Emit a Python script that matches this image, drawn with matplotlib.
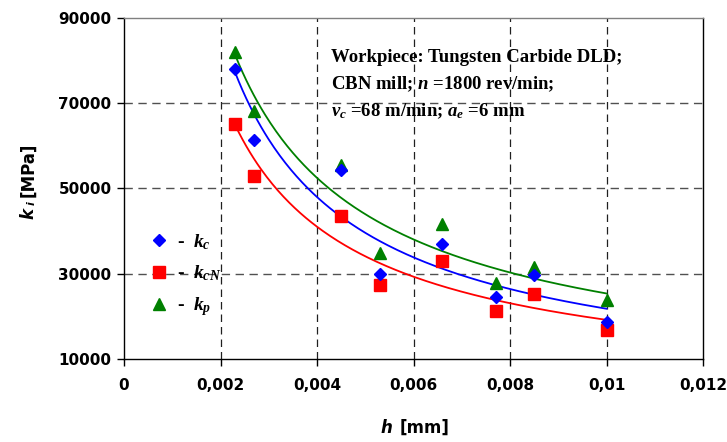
import numpy as np
import matplotlib
matplotlib.use("Agg")
import matplotlib.pyplot as plt

# ---- data ----
h = [0.0023, 0.0027, 0.0045, 0.0053, 0.0066, 0.0077, 0.0085, 0.0100]
kc = [78000, 61300, 54300, 29900, 37000, 24600, 29700, 18700]
kcN = [65000, 52900, 43500, 27300, 32900, 21300, 25200, 16700]
kp = [82000, 68000, 55400, 34900, 41600, 27800, 31600, 23800]

xticks = [0, 0.002, 0.004, 0.006, 0.008, 0.01, 0.012]
xticklabels = ["0", "0,002", "0,004", "0,006", "0,008", "0,01", "0,012"]
yticks = [10000, 30000, 50000, 70000, 90000]

plt.rcParams["font.family"] = ["DejaVu Sans"]
plt.rcParams["mathtext.fontset"] = "custom"
plt.rcParams["mathtext.rm"] = "Liberation Serif:bold"
plt.rcParams["mathtext.it"] = "Liberation Serif:bold:italic"
plt.rcParams["mathtext.bf"] = "Liberation Serif:bold"

W, H = 727, 442
fig = plt.figure(figsize=(W / 100, H / 100), dpi=100)
ax = fig.add_axes([124 / W, 1 - 359 / H, (703 - 124) / W, (359 - 17.5) / H])

ax.set_xlim(0, 0.012)
ax.set_ylim(10000, 90000)

# grid
for gx in xticks[1:-1]:
    ax.axvline(gx, color="#202020", lw=0.9, ls=(0, (6, 4)), zorder=1)
for gy in [30000, 50000, 70000]:
    ax.axhline(gy, color="#505050", lw=1.0, ls=(0, (6, 4)), zorder=1)

# power-law trendlines fitted to the data
series = [(kc, "#0000FF", "D", 6.0, r"-  $k_{c}$"),
          (kcN, "#FF0000", "s", 8.0, r"-  $k_{cN}$"),
          (kp, "#008000", "^", 8.5, r"-  $k_{p}$")]
hx = np.array(h)
xs = np.linspace(hx.min(), hx.max(), 200)
for vals, col, mk, ms, lab in series:
    b, a = np.polyfit(np.log(hx), np.log(np.array(vals)), 1)
    ax.plot(xs, np.exp(a) * xs ** b, color=col, lw=1.3, zorder=2)
for i in [2, 1, 0]:
    vals, col, mk, ms, lab = series[i]
    ax.plot(h, vals, ls="none", marker=mk, ms=ms, color=col, mec=col, zorder=3 + (2 - i))
handles = [plt.Line2D([], [], ls="none", marker=mk, ms=ms, color=col, mec=col, label=lab)
           for vals, col, mk, ms, lab in series]

ax.legend(handles=handles, loc="upper left", bbox_to_anchor=(0.027, 0.395),
          frameon=False, prop={"family": "Liberation Serif", "weight": "bold", "size": 14},
          handletextpad=0.3, labelspacing=0.62, handlelength=1.2, borderaxespad=0)

# spines
for s in ["left", "bottom", "right"]:
    ax.spines[s].set_color("black")
    ax.spines[s].set_linewidth(1.0)
ax.spines["top"].set_color("#808080")
ax.spines["top"].set_linewidth(1.0)

ax.set_xticks(xticks)
ax.set_xticklabels(xticklabels)
ax.set_yticks(yticks)
ax.set_yticklabels([str(v) for v in yticks])
ax.tick_params(axis="both", direction="out", length=5, width=1.0, labelsize=11)
ax.tick_params(axis="x", pad=9)
ax.tick_params(axis="y", pad=4)
for lb in ax.get_xticklabels() + ax.get_yticklabels():
    lb.set_fontweight("bold")

# annotation
tx = (331 - 124) / (703 - 124)
kw = dict(transform=ax.transAxes, family="Liberation Serif", weight="bold", size=13.5, va="center")
ax.text(tx, 1 - (58 - 17.5) / 341.5, "Workpiece: Tungsten Carbide DLD;", **kw)
ax.text(tx, 1 - (84.5 - 17.5) / 341.5, r"CBN mill; $n$ =1800 rev/min;", **kw)
ax.text(tx, 1 - (111 - 17.5) / 341.5, r"$v_{c}$ =68 m/min; $a_{e}$ =6 mm", **kw)

# axis labels (sans bold, italic variable)
fig.text(380 / W, 1 - 428 / H, "h", weight="bold", style="italic",
         size=12, va="center", ha="left")
fig.text(400 / W, 1 - 428 / H, "[mm]", weight="bold",
         size=12, va="center", ha="left")

fig.text(28 / W, 1 - 213 / H, "k", weight="bold", style="italic",
         size=12, va="center", ha="center", rotation=90)
fig.text(32 / W, 1 - 203 / H, "i", weight="bold", style="italic",
         size=8, va="center", ha="center", rotation=90)
fig.text(28 / W, 1 - 197 / H, "[MPa]", weight="bold",
         size=12, va="bottom", ha="center", rotation=90)

fig.savefig("out.png", dpi=100)
